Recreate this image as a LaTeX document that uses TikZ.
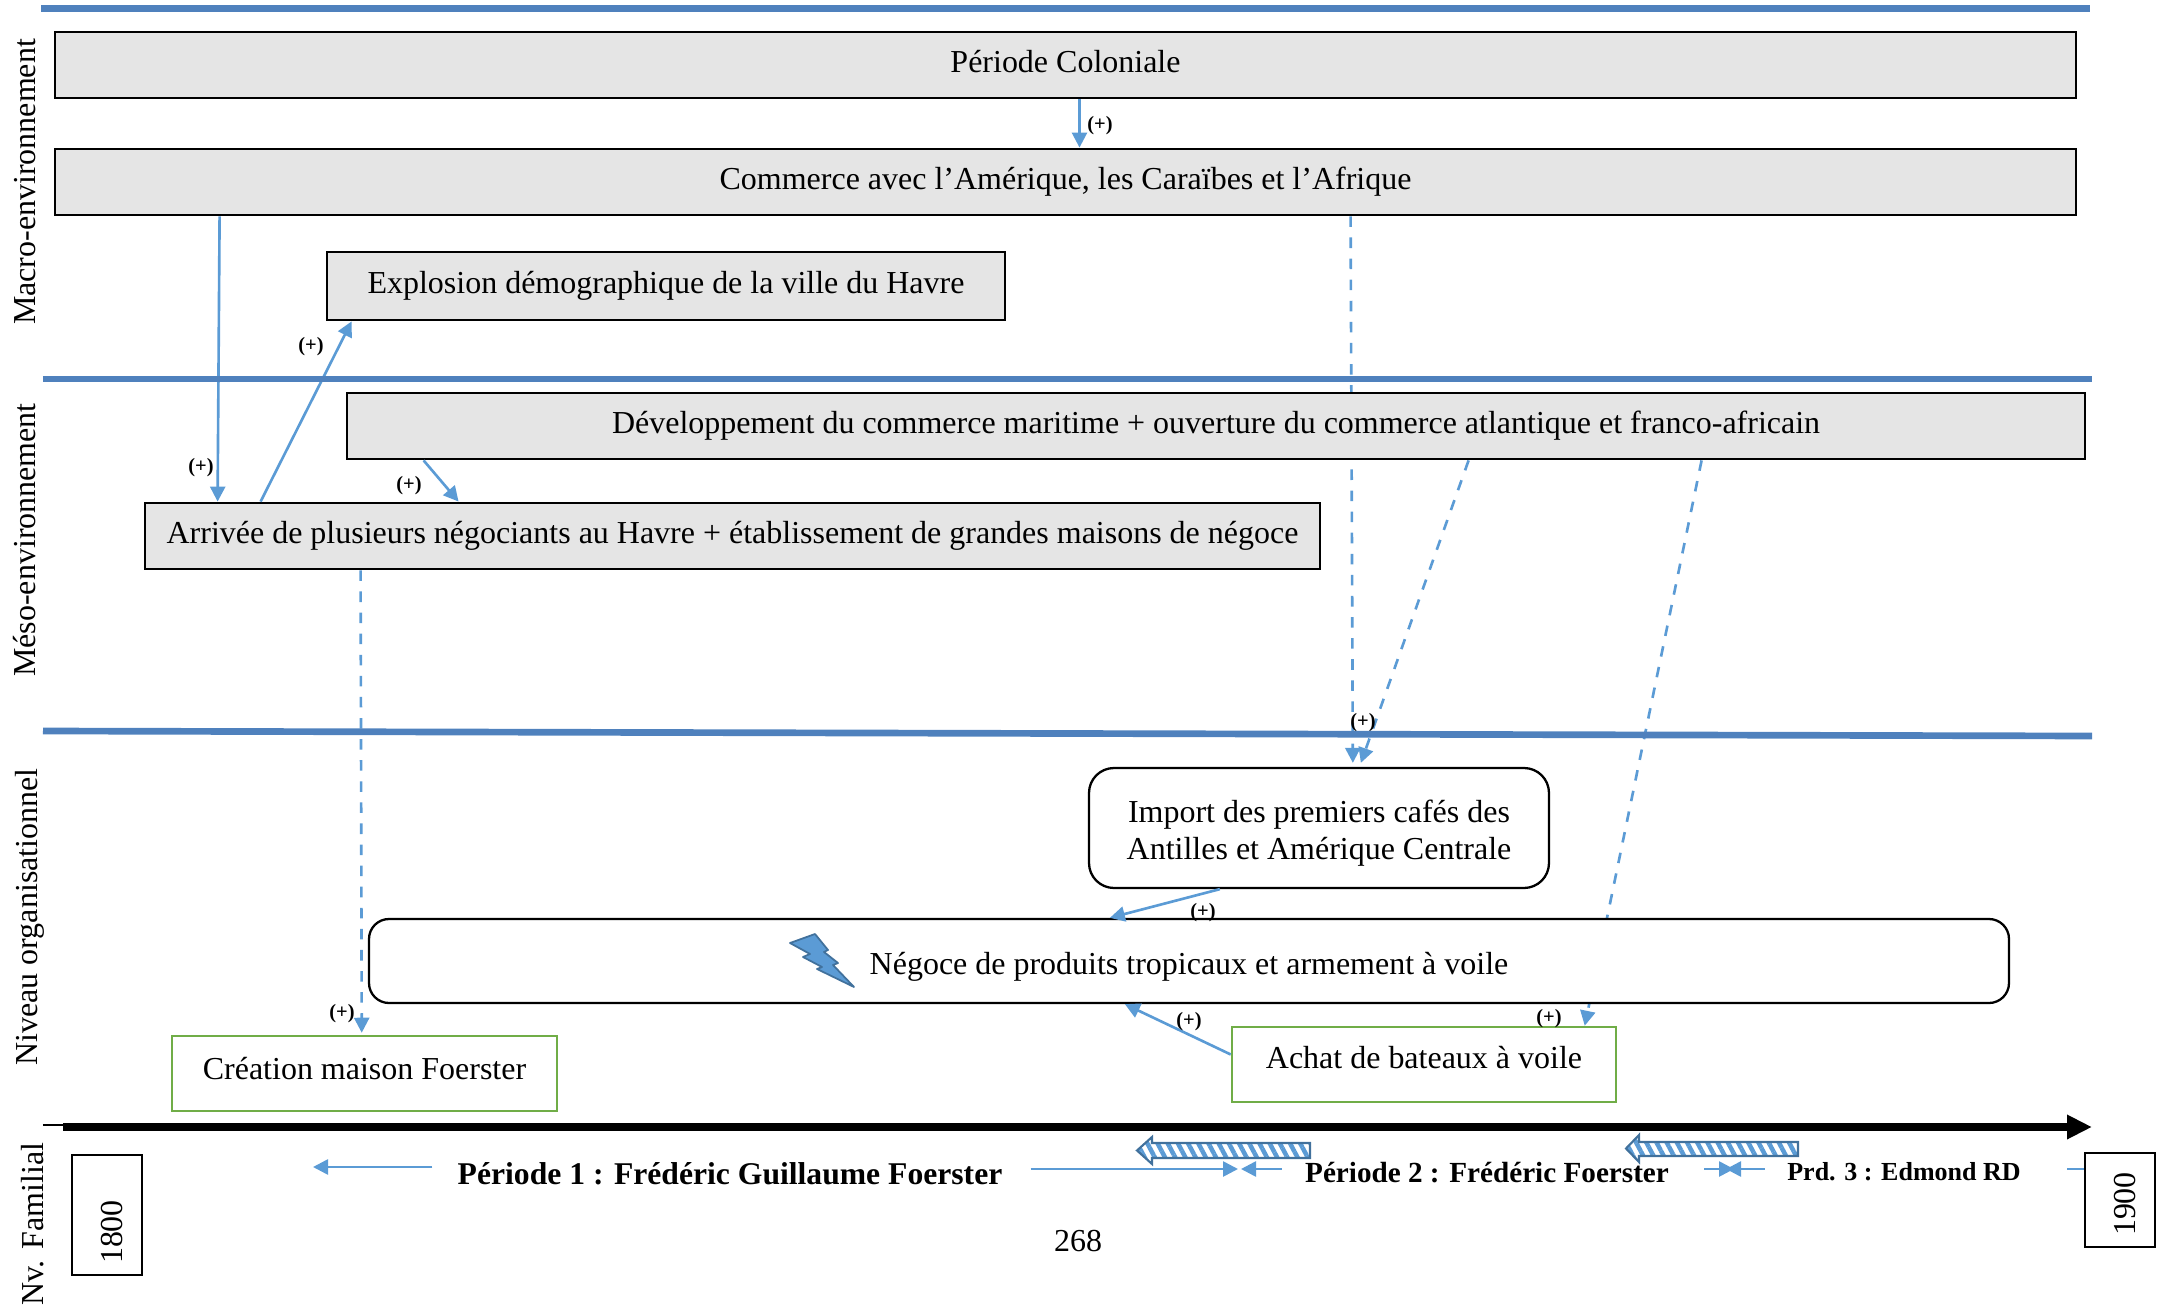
\documentclass[tikz,border=0pt]{standalone}
\usepackage{fontspec}
\setmainfont{Liberation Serif}
\usetikzlibrary{arrows.meta,backgrounds,patterns.meta}
\definecolor{niveauBlue}{HTML}{4F81BD}
\definecolor{linkBlue}{HTML}{5B9BD5}
\definecolor{edgeBlue}{HTML}{41719C}
\definecolor{boxGreen}{HTML}{70AD47}

\begin{document}
\begin{tikzpicture}
\tikzset{
    txt/.style={font=\fontsize{9.1}{10.7}\selectfont, text=black},
    block/.style={rectangle, draw=black, line width=0.8pt, txt, text height=7pt, text depth=2.9pt, inner sep=0pt},
    macroblock/.style={block, fill=black!10},
    orgblock/.style={block, line width=0.65pt, fill=white, rounded corners=0.2cm},
    greenblock/.style={block, draw=boxGreen, line width=0.72pt, fill=white},
    datebox/.style={block, rotate=90, text height=8.6pt, text depth=0pt, minimum width=1.2cm, minimum height=0.7cm},
    niveau/.style={txt, rotate=90},
    periode/.style={txt, font=\fontsize{9}{10.6}\selectfont\bfseries},
    plus/.style={font=\fontsize{5.8}{6}\selectfont\bfseries, inner sep=0pt, yshift=-0.02cm},
    link/.style={draw=linkBlue, line width=0.75pt, -{Triangle[length=0.15cm,width=0.15cm]}},
    dashlink/.style={link, dashed},
    separator/.style={draw=niveauBlue, line width=1.9pt},
    hatched/.style={draw=edgeBlue, line width=0.6pt, pattern={Lines[angle=-62,distance=0.09cm,line width=0.045cm]}, pattern color=linkBlue}
}
\useasboundingbox (0,0) rectangle (21.61,-13.05);

% macro
\node[macroblock, minimum width=20.21cm, minimum height=0.66cm] (coloniale) at (10.655,-0.65) {Période Coloniale};
\node[macroblock, minimum width=20.21cm, minimum height=0.66cm] (commerce) at (10.655,-1.82) {Commerce avec l’Amérique, les Caraïbes et l’Afrique};
\node[macroblock, minimum width=6.78cm, minimum height=0.68cm] (explosion) at (6.66,-2.86) {Explosion démographique de la ville du Havre};

% meso
\node[macroblock, minimum width=17.38cm, minimum height=0.66cm] (maritime) at (12.16,-4.26) {Développement du commerce maritime + ouverture du commerce atlantique et franco-africain};
\node[macroblock, minimum width=11.75cm, minimum height=0.66cm] (arrivee) at (7.325,-5.36) {Arrivée de plusieurs négociants au Havre + établissement de grandes maisons de négoce};

% organisation
\node[orgblock, align=center, text height=, text depth=, rounded corners=0.25cm, minimum width=4.6cm, minimum height=1.2cm] (import) at (13.19,-8.28) {\rule{0pt}{9.3pt}Import des premiers cafés des\\Antilles et Amérique Centrale};
\node[orgblock, text height=7.9pt, text depth=0pt, minimum width=16.4cm, minimum height=0.84cm] (negoce) at (11.89,-9.61) {Négoce de produits tropicaux et armement à voile};
\node[greenblock, text depth=3.7pt, minimum width=3.85cm, minimum height=0.75cm] (creation) at (3.645,-10.735) {Création maison Foerster};
\node[greenblock, text depth=4.5pt, minimum width=3.84cm, minimum height=0.75cm] (achat) at (14.24,-10.645) {Achat de bateaux à voile};

% periodes
\node[periode] (per1) at (7.30,-11.74) {Période 1 : Frédéric Guillaume Foerster};
\node[periode, font=\fontsize{8.3}{10}\selectfont\bfseries] (per2) at (14.87,-11.73) {Période 2 : Frédéric Foerster};
\node[periode, font=\fontsize{7.4}{9}\selectfont\bfseries] (per3) at (19.04,-11.72) {Prd. 3 : Edmond RD};
\node[datebox] (an1800) at (1.07,-12.15) {1800\kern0.34cm};
\node[datebox, minimum width=0.94cm] (an1900) at (21.2,-12.0) {1900\kern0.08cm};
\node[txt] (page) at (10.78,-12.41) {268};

% niveaux
\node[niveau] (macro) at (0.25,-1.82) {Macro-environnement};
\node[niveau] (meso) at (0.25,-5.40) {Méso-environnement};
\node[niveau] (orga) at (0.30,-9.17) {Niveau organisationnel};
\node[niveau] (familial) at (0.33,-12.24) {Nv. Familial};

\coordinate (debut) at (3.13,-11.67);
\coordinate (limitA) at (12.38,-11.69);
\coordinate (limitB) at (12.41,-11.69);
\coordinate (limitC) at (17.34,-11.69);
\coordinate (limitD) at (17.26,-11.69);
\coordinate (axeA) at (0.63,-11.27);
\coordinate (axeB) at (20.92,-11.27);

% liens caches par les blocs
\begin{scope}[on background layer]
\draw[dashlink] ([xshift=12.97cm]commerce.south west) -- ([xshift=2.65cm,yshift=0.04cm]import.north west);
\draw[dashlink] ([xshift=11.23cm]maritime.south west) -- ([xshift=2.73cm,yshift=0.04cm]import.north west);
\draw[dashlink] ([xshift=13.56cm]maritime.south west) -- ([xshift=3.54cm]achat.north west);
\draw[dashlink] ([xshift=2.17cm]arrivee.south west) -- ([xshift=1.91cm,yshift=0.02cm]creation.north west);
\end{scope}

\draw[link] ([xshift=0.14cm]coloniale.south) -- ([xshift=0.14cm]commerce.north);
\draw[link] ([xshift=1.66cm]commerce.south west) -- ([xshift=0.74cm]arrivee.north west);
\draw[link] ([xshift=1.17cm]arrivee.north west) -- ([xshift=0.26cm]explosion.south west);
\draw[link] ([xshift=0.78cm]maritime.south west) -- ([xshift=3.15cm]arrivee.north west);
\draw[link] ([xshift=1.32cm]import.south west) -- ([xshift=7.42cm]negoce.north west);
\draw[link] ([yshift=0.1cm]achat.west) -- ([xshift=7.57cm]negoce.south west);

\draw[link] ([shift={(-0.13,0.07)}]per1.west) -- (debut);
\draw[link] ([shift={(0.16,0.05)}]per1.east) -- (limitA);
\draw[link] ([shift={(-0.11,0.04)}]per2.west) -- (limitB);
\draw[link] ([shift={(0.23,0.04)}]per2.east) -- (limitC);
\draw[link] ([shift={(-0.1,0.03)}]per3.west) -- (limitD);
\draw[draw=linkBlue, line width=0.75pt] ([shift={(0.34,0.03)}]per3.east) -- ([yshift=0.31cm]an1900.north);

\node[plus] (plusA) at (11.0,-1.24) {(+)};
\node[plus] (plusB) at (2.01,-4.66) {(+)};
\node[plus] (plusC) at (3.11,-3.45) {(+)};
\node[plus] (plusD) at (4.09,-4.84) {(+)};
\node[plus] (plusE) at (13.63,-7.21) {(+)};
\node[plus] (plusF) at (15.49,-10.17) {(+)};
\node[plus] (plusG) at (3.42,-10.12) {(+)};
\node[plus] (plusH) at (12.03,-9.11) {(+)};
\node[plus] (plusI) at (11.89,-10.20) {(+)};

% separateurs
\draw[separator] (0.41,-0.085) -- (20.9,-0.085);
\draw[separator] (0.43,-3.79) -- (20.92,-3.79);
\draw[separator] (0.43,-7.31) -- (20.92,-7.36);

% fleche du temps
\draw[black, line width=0.5pt] (0.43,-11.25) -- (20.7,-11.25);
\draw[black, line width=2.1pt, -{Triangle[length=0.25cm,width=0.23cm]}] (axeA) -- (axeB);

% flash et fleches hachurees
\draw[draw=edgeBlue, fill=linkBlue, line width=0.5pt, line join=round] (7.90,-9.43) -- (8.15,-9.34) -- (8.28,-9.50) -- (8.24,-9.52) -- (8.38,-9.63) -- (8.33,-9.65) -- (8.54,-9.87) -- (8.17,-9.69) -- (8.22,-9.67) -- (8.03,-9.57) -- (8.10,-9.54) -- cycle;
\draw[hatched] (13.10,-11.43) -- (11.52,-11.43) -- (11.52,-11.37) -- (11.37,-11.505) -- (11.52,-11.64) -- (11.52,-11.58) -- (13.10,-11.58) -- cycle;
\draw[hatched] (17.98,-11.42) -- (16.39,-11.42) -- (16.39,-11.35) -- (16.26,-11.485) -- (16.39,-11.62) -- (16.39,-11.56) -- (17.98,-11.56) -- cycle;
\end{tikzpicture}
\end{document}
